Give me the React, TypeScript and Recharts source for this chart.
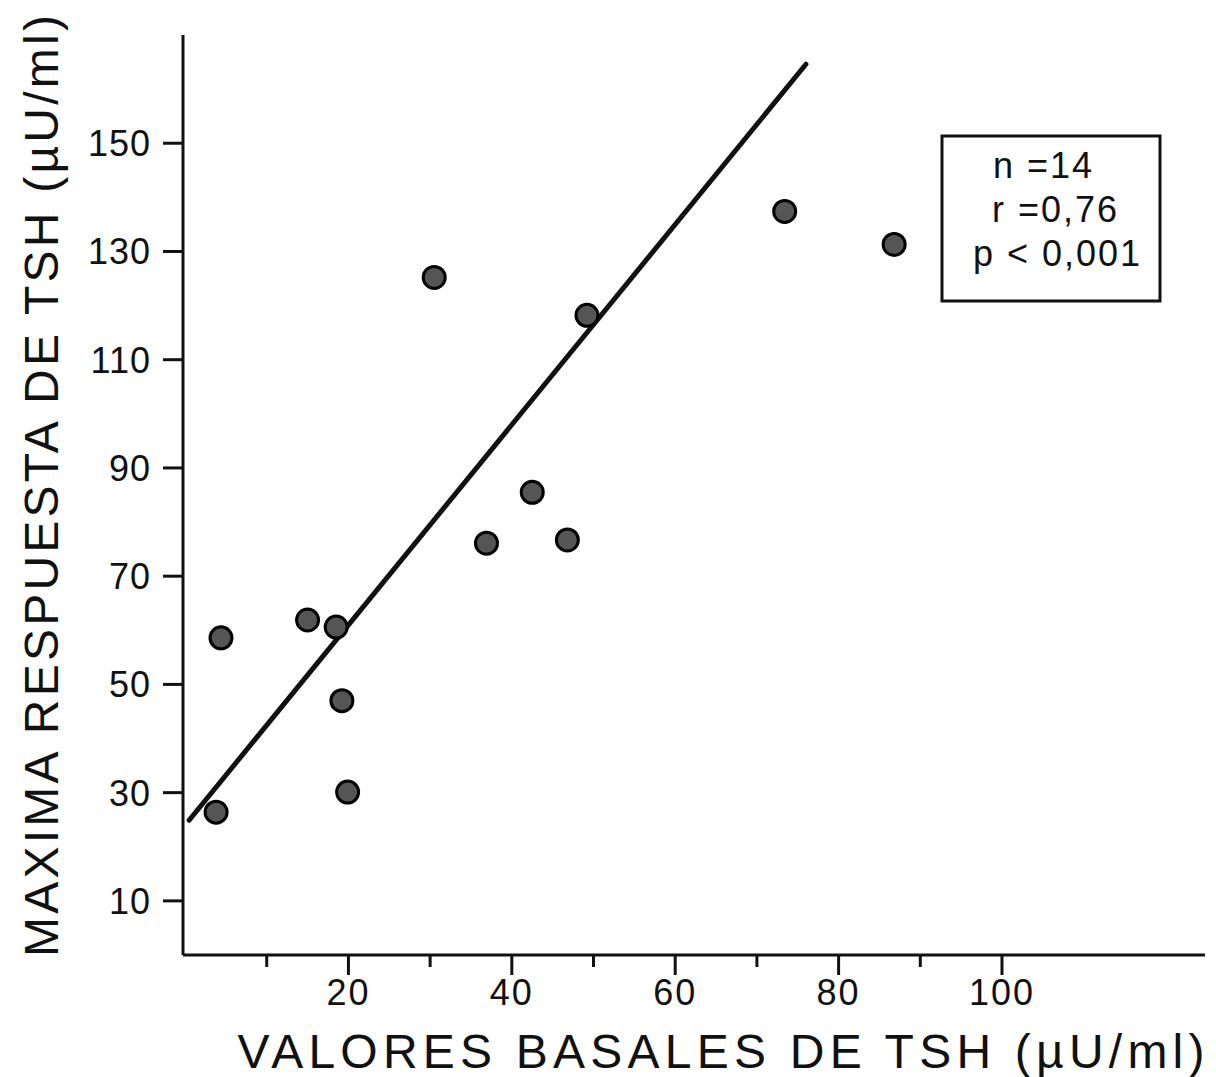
import {
  ScatterChart,
  Scatter,
  XAxis,
  YAxis,
  ReferenceLine,
  Label,
  Customized,
} from 'recharts'

// Basal TSH vs. peak TSH response (µU/ml)
const basalTsh = [4.4, 3.8, 15.0, 18.5, 19.2, 19.9, 30.5, 36.9, 42.5, 46.8, 49.2, 73.4, 86.8]
const peakTsh = [58.6, 26.4, 61.9, 60.6, 47.0, 30.1, 125.2, 76.1, 85.5, 76.7, 118.2, 137.4, 131.3]

// regression line end points
const fitX = [0.5, 76.0]
const fitY = [24.9, 164.6]

const xTicks = [10, 20, 30, 40, 50, 60, 70, 80, 90, 100]
const xLabelled = [20, 40, 60, 80, 100]
const yTicks = [10, 30, 50, 70, 90, 110, 130, 150]

const statLines = ['n =14', 'r =0,76', 'p < 0,001']
const statIndent = [993, 992, 973]

const points = basalTsh.map((x, i) => ({ x, y: peakTsh[i] }))

const FONT = '"Liberation Sans", Arial, sans-serif'
const INK = '#111'

function XTick(props: any) {
  const { x, y, payload } = props
  const major = xLabelled.includes(payload.value)
  return (
    <g>
      <line x1={x} x2={x} y1={y} y2={y + (major ? 20 : 12)} stroke={INK} strokeWidth={3} />
      {major && (
        <text
          x={x}
          y={y + 50}
          textAnchor="middle"
          fontFamily={FONT}
          fontSize={36}
          letterSpacing={2}
          fill={INK}
        >
          {payload.value}
        </text>
      )}
    </g>
  )
}

function YTick(props: any) {
  const { x, y, payload } = props
  return (
    <g>
      <line x1={x - 20} x2={x} y1={y} y2={y} stroke={INK} strokeWidth={3} />
      <text
        x={x - 32}
        y={y + 13}
        textAnchor="end"
        fontFamily={FONT}
        fontSize={36}
        letterSpacing={1}
        fill={INK}
      >
        {payload.value}
      </text>
    </g>
  )
}

function Dot(props: any) {
  const { cx, cy } = props
  return <circle cx={cx} cy={cy} r={11} fill="#555" stroke="#000" strokeWidth={3} />
}

function StatsBox() {
  return (
    <g>
      <rect x={942} y={136} width={218} height={165} fill="#fff" stroke={INK} strokeWidth={3} />
      {statLines.map((line, i) => (
        <text
          key={line}
          x={statIndent[i]}
          y={178 + i * 44}
          textAnchor="start"
          fontFamily={FONT}
          fontSize={36}
          letterSpacing={2}
          fill={INK}
        >
          {line}
        </text>
      ))}
    </g>
  )
}

export default function App() {
  return (
    <div style={{ width: 1216, height: 1077, background: '#fff' }}>
      <style>{'body{margin:0}'}</style>
      <ScatterChart
        width={1216}
        height={1077}
        margin={{ top: 35, right: 11, left: 0, bottom: 0 }}
      >
        <XAxis
          type="number"
          dataKey="x"
          domain={[-0.25, 124.85]}
          ticks={xTicks}
          tick={<XTick />}
          tickLine={false}
          tickSize={0}
          tickMargin={0}
          height={122}
          axisLine={{ stroke: INK, strokeWidth: 3 }}
          interval={0}
        >
          <Label
            content={() => (
              <text
                x={721}
                y={1068}
                textAnchor="middle"
                textLength={967}
                lengthAdjust="spacing"
                fontFamily={FONT}
                fontSize={48}
                fill={INK}
              >
                VALORES BASALES DE TSH (µU/ml)
              </text>
            )}
          />
        </XAxis>
        <YAxis
          type="number"
          dataKey="y"
          domain={[0, 170]}
          ticks={yTicks}
          tick={<YTick />}
          tickLine={false}
          tickSize={0}
          tickMargin={0}
          width={183}
          axisLine={{ stroke: INK, strokeWidth: 3 }}
          interval={0}
        >
          <Label
            content={() => (
              <text
                x={58}
                y={486}
                transform="rotate(-90 58 486)"
                textAnchor="middle"
                textLength={942}
                lengthAdjust="spacing"
                fontFamily={FONT}
                fontSize={48}
                fill={INK}
              >
                MAXIMA RESPUESTA DE TSH (µU/ml)
              </text>
            )}
          />
        </YAxis>
        <ReferenceLine
          segment={[
            { x: fitX[0], y: fitY[0] },
            { x: fitX[1], y: fitY[1] },
          ]}
          stroke={INK}
          strokeWidth={5}
          strokeLinecap="round"
          ifOverflow="visible"
        />
        <Scatter data={points} shape={<Dot />} isAnimationActive={false} />
        <Customized component={StatsBox} />
      </ScatterChart>
    </div>
  )
}
